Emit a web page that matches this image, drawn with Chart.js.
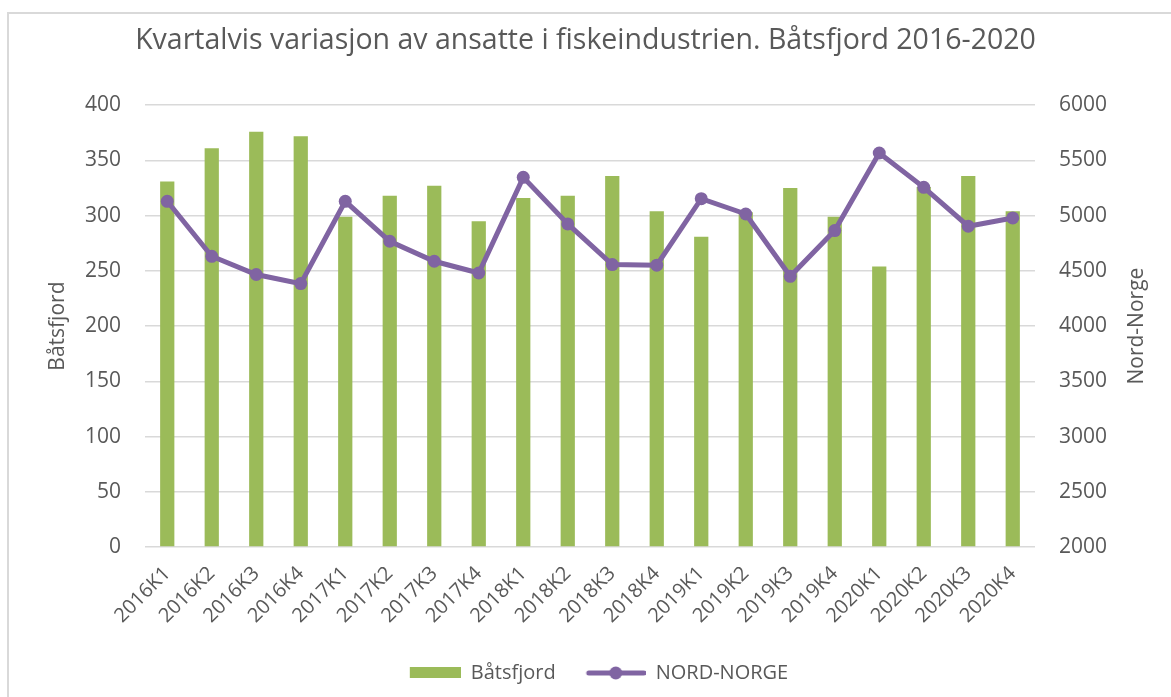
<!DOCTYPE html>
<html>
<head>
<meta charset="utf-8">
<script src="https://cdn.jsdelivr.net/npm/chart.js@4.4.0/dist/chart.umd.min.js"></script>
<style>
  html, body { margin: 0; padding: 0; background: #fff; }
  #wrap { position: relative; width: 1171px; height: 697px; overflow: hidden; }
  #frame {
    position: absolute; left: 7px; top: 12px; width: 1200px; height: 720px;
    border: 2px solid #d9d9d9; pointer-events: none; box-sizing: border-box;
  }
  canvas { position: absolute; left: 0; top: 0; }
</style>
</head>
<body>
<div id="wrap">
  <canvas id="chart" width="1171" height="697"></canvas>
  <div id="frame"></div>
</div>
<script>
const quarters = [
  '2016K1', '2016K2', '2016K3', '2016K4',
  '2017K1', '2017K2', '2017K3', '2017K4',
  '2018K1', '2018K2', '2018K3', '2018K4',
  '2019K1', '2019K2', '2019K3', '2019K4',
  '2020K1', '2020K2', '2020K3', '2020K4'
];

const batsfjord = [331, 361, 376, 372, 299, 318, 327, 295, 316, 318, 336, 304, 281, 303, 325, 299, 254, 326, 336, 304];
const nordNorge = [5130, 4632, 4467, 4385, 5130, 4768, 4587, 4481, 5347, 4925, 4557, 4552, 5154, 5015, 4451, 4865, 5567, 5256, 4904, 4979];

const leftTicks = [0, 50, 100, 150, 200, 250, 300, 350, 400];
const rightTicks = [2000, 2500, 3000, 3500, 4000, 4500, 5000, 5500, 6000];

const green = '#9bbb59';
const purple = '#8064a2';
const textColor = '#595959';
const gridColor = '#d9d9d9';
const fontFamily = '"Open Sans", "Noto Sans", sans-serif';

// legend swatches as small canvases
function barSwatch() {
  const c = document.createElement('canvas');
  c.width = 78; c.height = 14;
  const g = c.getContext('2d');
  g.fillStyle = green;
  g.fillRect(27, 1, 51, 11);
  return c;
}

function lineSwatch() {
  const c = document.createElement('canvas');
  c.width = 78; c.height = 14;
  const g = c.getContext('2d');
  g.strokeStyle = purple;
  g.lineWidth = 5;
  g.lineCap = 'round';
  g.beginPath();
  g.moveTo(21, 7);
  g.lineTo(76, 7);
  g.stroke();
  g.fillStyle = purple;
  g.beginPath();
  g.arc(48, 7, 6.5, 0, Math.PI * 2);
  g.fill();
  return c;
}

const swatches = [barSwatch(), lineSwatch()];

// right axis title reads bottom-to-top like the left one
const rightTitle = {
  id: 'rightTitle',
  afterDraw(chart) {
    const { ctx, chartArea } = chart;
    const scale = chart.scales.y2;
    ctx.save();
    ctx.translate(scale.left + 102, (chartArea.top + chartArea.bottom) / 2);
    ctx.rotate(-Math.PI / 2);
    ctx.fillStyle = textColor;
    ctx.font = '21px ' + fontFamily;
    ctx.textAlign = 'center';
    ctx.textBaseline = 'middle';
    ctx.fillText('Nord-Norge', 0, 0);
    ctx.restore();
  }
};

new Chart(document.getElementById('chart'), {
  data: {
    labels: quarters,
    datasets: [
      {
        type: 'bar',
        label: 'Båtsfjord',
        data: batsfjord,
        backgroundColor: green,
        yAxisID: 'y',
        barPercentage: 0.32,
        categoryPercentage: 1,
        order: 2
      },
      {
        type: 'line',
        label: 'NORD-NORGE',
        data: nordNorge,
        borderColor: purple,
        backgroundColor: purple,
        borderWidth: 5,
        pointRadius: 6.5,
        pointHoverRadius: 6.5,
        pointBackgroundColor: purple,
        pointBorderWidth: 0,
        tension: 0,
        yAxisID: 'y2',
        order: 1
      }
    ]
  },
  plugins: [rightTitle],
  options: {
    responsive: false,
    animation: false,
    layout: { padding: { top: 0, left: 0, right: 0, bottom: 4 } },
    plugins: {
      title: {
        display: true,
        text: 'Kvartalvis variasjon av ansatte i fiskeindustrien. Båtsfjord 2016-2020',
        color: textColor,
        font: { family: fontFamily, size: 28.5, weight: 'normal' },
        padding: { top: 24, bottom: 47 }
      },
      legend: {
        position: 'bottom',
        labels: {
          color: textColor,
          font: { family: fontFamily, size: 20 },
          usePointStyle: true,
          pointStyleWidth: 78,
          padding: 12,
          sort: (a, b) => a.datasetIndex - b.datasetIndex,
          generateLabels(chart) {
            const items = Chart.defaults.plugins.legend.labels.generateLabels(chart);
            items.forEach((item) => { item.pointStyle = swatches[item.datasetIndex]; });
            return items;
          }
        }
      },
      tooltip: { enabled: false }
    },
    scales: {
      x: {
        grid: { display: false },
        border: { display: false },
        ticks: {
          color: textColor,
          font: { family: fontFamily, size: 20 },
          minRotation: 45,
          maxRotation: 45,
          padding: 7
        },
        afterFit(scale) { scale.height = 104; }
      },
      y: {
        position: 'left',
        min: 0,
        max: 400,
        afterBuildTicks(scale) { scale.ticks = leftTicks.map((v) => ({ value: v })); },
        grid: { color: gridColor, lineWidth: 1.5, drawTicks: false },
        border: { display: false },
        ticks: {
          color: textColor,
          font: { family: fontFamily, size: 21 },
          padding: 24
        },
        title: {
          display: true,
          text: 'Båtsfjord',
          color: textColor,
          font: { family: fontFamily, size: 21 },
          padding: { top: 45, bottom: 0 }
        },
        afterFit(scale) { scale.width = 145; }
      },
      y2: {
        position: 'right',
        min: 2000,
        max: 6000,
        afterBuildTicks(scale) { scale.ticks = rightTicks.map((v) => ({ value: v })); },
        grid: { display: false, drawTicks: false },
        border: { display: false },
        ticks: {
          color: textColor,
          font: { family: fontFamily, size: 21 },
          padding: 24,
          callback: (value) => String(value)
        },
        afterFit(scale) { scale.width = 136; }
      }
    }
  }
});
</script>
</body>
</html>
